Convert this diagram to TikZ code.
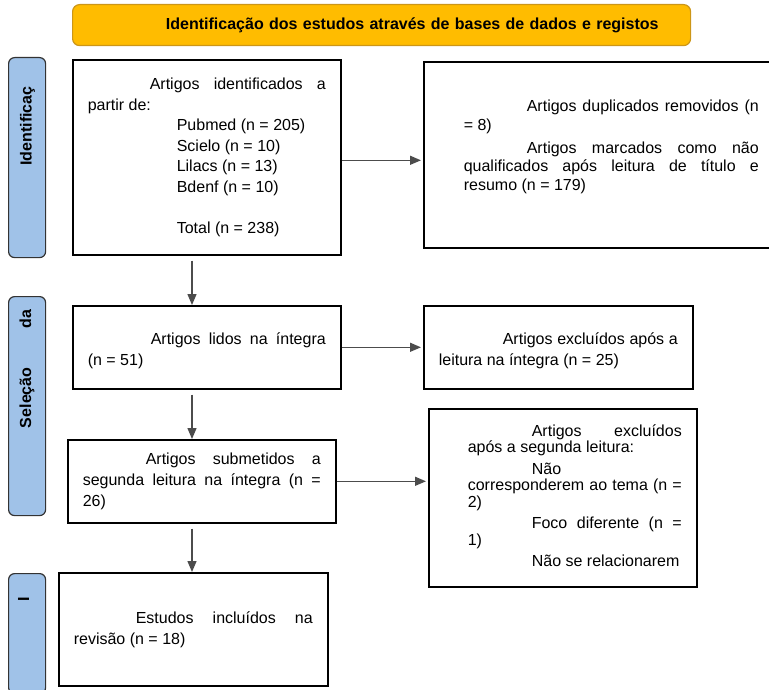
\documentclass[tikz,border=0pt]{standalone}
\usepackage{fontspec}
\setmainfont{Liberation Sans}
\usepackage{tikz}
\usetikzlibrary{arrows.meta,positioning}

\definecolor{amarelo}{RGB}{255,188,0}
\definecolor{ouro}{RGB}{204,150,24}
\definecolor{azul}{RGB}{160,194,232}
\newcommand{\caixafonte}{\fontsize{16}{21}\selectfont\tolerance=10000\hyphenpenalty=10000}
\newcommand{\rotulofonte}{\fontsize{16}{19}\selectfont\bfseries}

\begin{document}
\begin{tikzpicture}[x=1pt,y=-1pt,>={Triangle[length=11pt,width=9pt]}]
\tikzstyle{caixa} = [draw=black,line width=1.6pt,anchor=north west,inner xsep=15pt,inner ysep=0pt,align=justify,font=\caixafonte]
\tikzstyle{barra} = [draw=black!80,line width=1.2pt,fill=azul,rounded corners=6pt,anchor=north west,minimum width=37pt,inner sep=0pt]
\tikzstyle{rotulo} = [rotate=90,font=\rotulofonte,inner sep=0pt]
    \useasboundingbox (0,0) rectangle (769,690);

    % titulo
    \node[draw=ouro,fill=amarelo,line width=1.2pt,rounded corners=7pt,anchor=north west,minimum height=41pt,text width=554pt,inner xsep=32pt,align=right,font=\rotulofonte] (titulo) at (72,4) {Identificação dos estudos através de bases de dados e registos};

    % barras laterais
    \node[barra,minimum height=200pt] (barraId) at (8,57) {};
    \node[rotulo] (rotuloId) at (27.5,126) {Identificaç};
    \node[barra,minimum height=219pt] (barraSel) at (8,296) {};
    \node[rotulo] (rotuloSel) at (27,369) {\makebox[118pt]{Seleção\hfill da}};
    \node[barra,minimum height=120pt] (barraInc) at (8,573) {};
    \node[rotulo] (rotuloInc) at (23.5,599) {I};

    % caixas
    \node[caixa,text width=238pt,minimum height=195pt] (identificados) at (72,59) {\fontsize{16}{20.5}\selectfont
        \hspace*{62pt}Artigos identificados a\linebreak partir de:\par
        \hspace*{89pt}Pubmed (n = 205)\par
        \hspace*{89pt}Scielo (n = 10)\par
        \hspace*{89pt}Lilacs (n = 13)\par
        \hspace*{89pt}Bdenf (n = 10)\par
        \mbox{}\par
        \hspace*{89pt}Total (n = 238)\par};
    \node[caixa,text width=320pt,minimum height=186pt] (duplicados) at (423,61) {\fontsize{16}{18.5}\selectfont\parskip=4.5pt\leftskip=25pt
        \hspace*{63pt}Artigos duplicados removidos (n\linebreak = 8)\par
        \hspace*{63pt}Artigos marcados como não\linebreak qualificados após leitura de título e\linebreak resumo (n = 179)\par\kern16pt};
    \node[caixa,text width=238pt,minimum height=83pt] (lidos) at (72,305) {\hspace*{63pt}Artigos lidos na íntegra\linebreak (n = 51)\par\kern-6pt};
    \node[caixa,text width=239pt,minimum height=83pt] (excluidos) at (423,305) {\hspace*{64pt}Artigos excluídos após a\linebreak leitura na íntegra (n = 25)\par\kern-6pt};
    \node[caixa,text width=238pt,minimum height=83pt] (submetidos) at (67,439) {\hspace*{63pt}Artigos submetidos a\linebreak segunda leitura na íntegra (n =\linebreak 26)\par};
    \node[caixa,text width=238pt,minimum height=178pt] (segunda) at (428,408) {\fontsize{16}{16.5}\selectfont\parskip=5pt\leftskip=24pt
        \hspace*{64pt}Artigos excluídos\linebreak após a segunda leitura:\par
        \hspace*{64pt}Não\hfill\break corresponderem ao tema (n =\linebreak 2)\par
        \hspace*{64pt}Foco diferente (n =\linebreak 1)\par
        \hspace*{64pt}Não se relacionarem\par\kern4pt};
    \node[caixa,text width=239pt,minimum height=113pt] (incluidos) at (58,572) {\hspace*{62pt}Estudos incluídos na\linebreak revisão (n = 18)\par};

    % setas
    \coordinate (eixo) at (192,0);
    \tikzset{seta/.style={->,draw=black!70,line width=1.4pt}}
    \draw[seta,shorten <=5pt] (identificados.south -| eixo) -- (lidos.north -| eixo);
    \draw[seta,shorten <=5pt] (lidos.south -| eixo) -- (submetidos.north -| eixo);
    \draw[seta,shorten <=5pt] (submetidos.south -| eixo) -- (incluidos.north -| eixo);
    \draw[seta,shorten >=2pt] ([yshift=-3pt]identificados.east) -- ([yshift=-3pt]identificados.east -| duplicados.west);
    \draw[seta,shorten >=2pt] (lidos.east) -- (lidos.east -| excluidos.west);
    \draw[seta,shorten >=2pt] (submetidos.east) -- (submetidos.east -| segunda.west);
\end{tikzpicture}
\end{document}
